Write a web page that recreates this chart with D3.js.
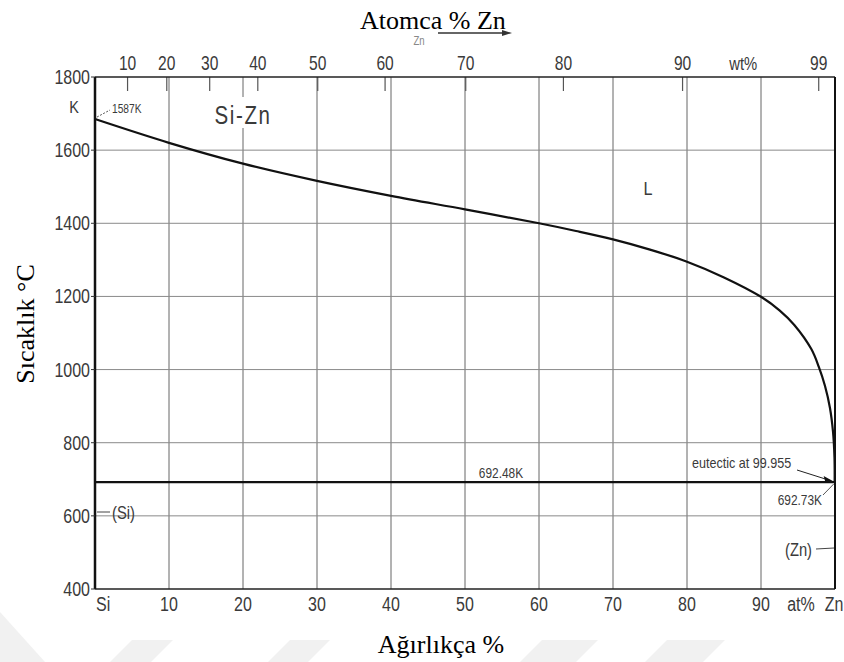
<!DOCTYPE html>
<html>
<head>
<meta charset="utf-8">
<script src="https://cdn.jsdelivr.net/npm/d3@7"></script>
<style>
  html, body { margin: 0; padding: 0; background: #fff; }
  svg { display: block; }
</style>
</head>
<body>
<svg id="chart" width="844" height="662"></svg>
<script>
// ---------------- data ----------------
const atGrid = [10, 20, 30, 40, 50, 60, 70, 80, 90];          // at% Zn grid / bottom ticks
const tempTicks = [400, 600, 800, 1000, 1200, 1400, 1600, 1800]; // temperature ticks (K)
const wtLabels = [10, 20, 30, 40, 50, 60, 70, 80, 90, 99];     // top wt% tick labels
const wtAtPos = [4.4, 9.7, 15.5, 22.0, 30.1, 39.2, 50.1, 63.3, 79.4, 97.8]; // their at% positions
const liquidusAt = [0, 10, 20, 30, 40, 50, 60, 65, 70, 75, 80, 85, 90, 92.5, 94.5, 96.8, 97.8, 98.65, 99.32, 99.73, 99.93, 99.955];
const liquidusT  = [1685, 1620, 1563, 1516, 1475, 1438, 1400, 1379, 1356, 1328, 1295, 1252, 1199, 1162, 1122, 1056, 1008, 955, 895, 830, 760, 692.73];
const eutecticT = 692.48;
const eutecticAt = 99.955;
const eutecticZnT = 692.73;
const siMeltLabel = "1587K";

// ---------------- layout ----------------
const svg = d3.select("#chart");
const x = d3.scaleLinear().domain([0, 100]).range([95, 835]);
const y = d3.scaleLinear().domain([400, 1800]).range([589, 77]);

const LBL = "'Liberation Sans', Arial, sans-serif";
const SERIF = "'Liberation Serif', 'Times New Roman', serif";
const INK = "#3a3a3a";

function label(g, px, py, text, size, anchor, sx, fill) {
  return g.append("text")
    .attr("transform", `translate(${px},${py}) scale(${sx},1)`)
    .attr("text-anchor", anchor)
    .attr("font-family", LBL)
    .attr("font-size", size)
    .attr("fill", fill || INK)
    .text(text);
}

// faint watermark shapes at bottom
const wm = svg.append("g").attr("fill", "#f1f1f1");
wm.append("polygon").attr("points", "0,612 45,662 0,662");
[[132, 173], [290, 330], [542, 598], [667, 725]].forEach(([a, b]) => {
  wm.append("polygon").attr("points", `${a},640 ${b},640 ${b - 22},662 ${a - 22},662`);
});

// grid
const grid = svg.append("g");
grid.selectAll("line.v").data(atGrid).join("line")
  .attr("x1", d => x(d)).attr("x2", d => x(d))
  .attr("y1", y(1800)).attr("y2", y(400))
  .attr("stroke", "#666").attr("stroke-width", 1);
grid.selectAll("line.h").data(tempTicks.filter(t => t > 400 && t < 1800)).join("line")
  .attr("x1", x(0)).attr("x2", x(100))
  .attr("y1", d => y(d)).attr("y2", d => y(d))
  .attr("stroke", "#8a8a8a").attr("stroke-width", 1);

// top wt% ticks
svg.append("g").selectAll("line").data(wtAtPos).join("line")
  .attr("x1", d => x(d)).attr("x2", d => x(d))
  .attr("y1", y(1800)).attr("y2", y(1800) + 14)
  .attr("stroke", "#555").attr("stroke-width", 1.2);

// frame
const frame = svg.append("g").attr("fill", "none");
frame.append("line").attr("x1", x(0)).attr("x2", x(100)).attr("y1", y(1800)).attr("y2", y(1800)).attr("stroke", "#222").attr("stroke-width", 1.5);
frame.append("line").attr("x1", x(0)).attr("x2", x(100)).attr("y1", y(400)).attr("y2", y(400)).attr("stroke", "#222").attr("stroke-width", 1.5);
frame.append("line").attr("x1", x(100)).attr("x2", x(100)).attr("y1", y(1800)).attr("y2", y(400)).attr("stroke", "#111").attr("stroke-width", 2);
frame.append("line").attr("x1", x(0)).attr("x2", x(0)).attr("y1", y(1800)).attr("y2", y(400)).attr("stroke", "#111").attr("stroke-width", 2.5);
// y tick marks
svg.append("g").selectAll("line").data(tempTicks).join("line")
  .attr("x1", x(0) - 4).attr("x2", x(0))
  .attr("y1", d => y(d)).attr("y2", d => y(d))
  .attr("stroke", "#333").attr("stroke-width", 1);

// Si-Zn label with white background (interrupts grid line)
svg.append("rect").attr("x", 208).attr("y", 97).attr("width", 70).attr("height", 31).attr("fill", "#fff");
label(svg, 243, 124, "Si-Zn", 25, "middle", 0.82).attr("letter-spacing", 2);

// liquidus
const line = d3.line().x(d => x(d[0])).y(d => y(d[1])).curve(d3.curveCatmullRom.alpha(0.5));
svg.append("path")
  .datum(liquidusAt.map((a, i) => [a, liquidusT[i]]))
  .attr("d", line)
  .attr("fill", "none").attr("stroke", "#111").attr("stroke-width", 2.2);

// eutectic line
svg.append("line")
  .attr("x1", x(0)).attr("x2", x(eutecticAt))
  .attr("y1", y(eutecticT)).attr("y2", y(eutecticT))
  .attr("stroke", "#111").attr("stroke-width", 2.2);

// y tick labels
tempTicks.forEach(t => label(svg, 90, y(t) + 7, String(t), 20, "end", 0.8));
label(svg, 74, 113, "K", 17, "middle", 0.85);

// bottom labels
label(svg, 96, 611, "Si", 20, "start", 0.8);
atGrid.forEach(a => label(svg, x(a), 611, String(a), 20, "middle", 0.8));
label(svg, x(95.4), 611, "at%", 20, "middle", 0.8);
label(svg, x(100) - 1, 611, "Zn", 20, "middle", 0.8);

// top labels
wtLabels.forEach((w, i) => label(svg, x(wtAtPos[i]), 70, String(w), 20, "middle", 0.78));
label(svg, x(87.6), 70, "wt%", 19, "middle", 0.78);

// annotations
label(svg, x(0) + 17, 113, siMeltLabel, 12, "start", 0.85);
svg.append("line").attr("x1", x(0) + 2).attr("y1", y(1685) - 2).attr("x2", x(0) + 15).attr("y2", 110)
  .attr("stroke", "#444").attr("stroke-width", 0.9).attr("stroke-dasharray", "2,1.5");

label(svg, 501, 478, eutecticT.toFixed(2) + "K", 14, "middle", 0.85);
label(svg, 692, 468, "eutectic at " + eutecticAt, 14, "start", 0.9);
const ex = x(eutecticAt), ey = y(eutecticT);
svg.append("line").attr("x1", 797).attr("y1", 470).attr("x2", ex - 6).attr("y2", ey - 2)
  .attr("stroke", "#222").attr("stroke-width", 1);
svg.append("path").attr("d", `M${ex},${ey} L${ex - 11},${ey - 6} L${ex - 9},${ey + 1} Z`).attr("fill", "#111");
label(svg, 822, 505, eutecticZnT.toFixed(2) + "K", 14, "end", 0.85);
svg.append("line").attr("x1", 823).attr("y1", 495).attr("x2", ex - 1).attr("y2", ey + 2)
  .attr("stroke", "#444").attr("stroke-width", 0.9);

label(svg, 648, 195, "L", 18, "middle", 0.9);
label(svg, 112, 519, "(Si)", 18, "start", 0.82);
svg.append("line").attr("x1", x(0) + 2).attr("x2", 110).attr("y1", 512).attr("y2", 512).attr("stroke", "#444").attr("stroke-width", 1);
label(svg, 812, 556, "(Zn)", 18, "end", 0.82);
svg.append("line").attr("x1", 816).attr("x2", x(100) - 1).attr("y1", 549).attr("y2", 548).attr("stroke", "#444").attr("stroke-width", 1);

// small "Zn ->" from the original diagram, under the title
label(svg, 419, 45, "Zn", 12, "middle", 0.8, "#888");
svg.append("line").attr("x1", 438).attr("x2", 506).attr("y1", 33).attr("y2", 33).attr("stroke", "#333").attr("stroke-width", 1.3);
svg.append("path").attr("d", "M512,33 L502,30 L502,36 Z").attr("fill", "#333");

// axis titles
svg.append("text").attr("x", 360).attr("y", 29)
  .attr("font-family", SERIF).attr("font-size", 26).attr("fill", "#000")
  .text("Atomca % Zn");
svg.append("text").attr("x", 441).attr("y", 653).attr("text-anchor", "middle")
  .attr("font-family", SERIF).attr("font-size", 26).attr("fill", "#000")
  .text("Ağırlıkça %");
svg.append("text").attr("transform", "translate(34,324) rotate(-90)").attr("text-anchor", "middle")
  .attr("font-family", SERIF).attr("font-size", 26).attr("fill", "#000")
  .text("Sıcaklık °C");
</script>
</body>
</html>
